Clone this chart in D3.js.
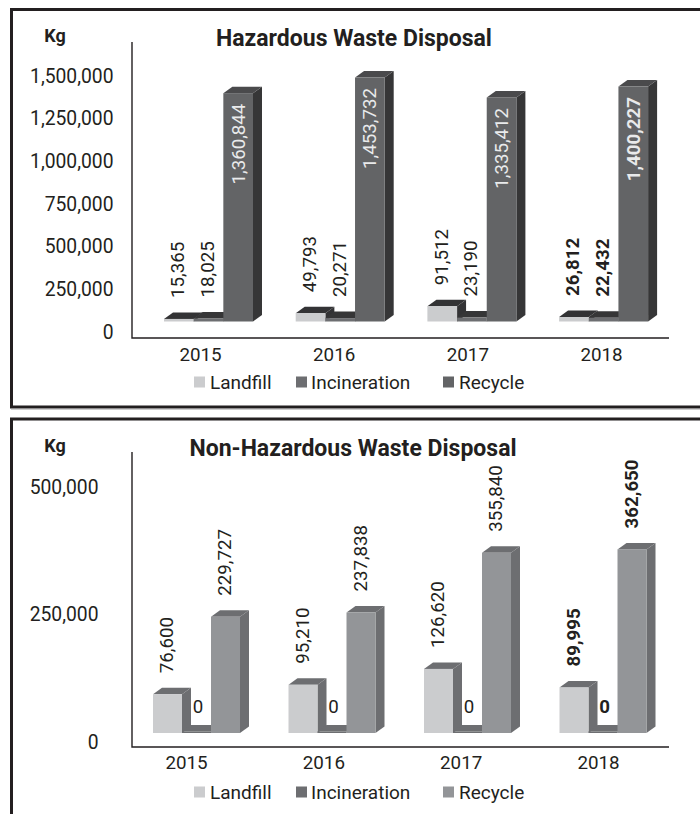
<!DOCTYPE html>
<html><head><meta charset="utf-8">
<script src="https://cdn.jsdelivr.net/npm/d3@7"></script>
<style>
html,body{margin:0;padding:0;background:#fff}
svg{display:block}
text{font-family:Roboto,sans-serif;fill:#231f20}
</style></head><body><svg id="c" width="700" height="814"></svg>
<script>
const years = ["2015","2016","2017","2018"];
const seriesNames = ["Landfill","Incineration","Recycle"];
const hazLandfill = [15365,49793,91512,26812];
const hazIncineration = [18025,20271,23190,22432];
const hazRecycle = [1360844,1453732,1335412,1400227];
const hazTicks = [0,250000,500000,750000,1000000,1250000,1500000];
const nonLandfill = [76600,95210,126620,89995];
const nonIncineration = [0,0,0,0];
const nonRecycle = [229727,237838,355840,362650];
const nonTicks = [0,250000,500000];
const fmt = d3.format(",");
const svg = d3.select("#c");
const INK = "#231f20";
const FS_TICK = 19.3, FS_YEAR = 18.8, FS_VAL = 18.7, FS_LEG = 19;

// page frames
svg.append("line").attr("x1",11).attr("x2",700).attr("y1",409.5).attr("y2",409.5).attr("stroke","#cfcfcf").attr("stroke-width",1);
svg.append("path").attr("fill","none").attr("stroke",INK).attr("stroke-width",3)
  .attr("d","M703,9.5H11.5V407H703");
svg.append("path").attr("fill","none").attr("stroke",INK).attr("stroke-width",3)
  .attr("d","M703,419H11.5V818");

function panel(o){
  const g = svg.append("g");
  // bars sit on a raised floor, so bar and label scales differ (as in the original)
  const y = d3.scaleLinear().domain([0,o.barMax]).range([o.base,o.barTop]);
  const yLabel = d3.scaleLinear().domain([0,d3.max(o.ticks)]).range(o.tickRange);
  const xGroup = d3.scaleBand().domain(years).range(o.groupRange);
  const xSeries = d3.scaleBand().domain(seriesNames).range([0,o.groupWidth]);
  const xYear = d3.scalePoint().domain(years).range(o.yearRange);
  const dx = 9, dy = 6.5;
  const data = o.values.flatMap((vals,s)=>vals.map((v,i)=>({v,year:years[i],name:seriesNames[s],s})));

  // axis lines
  g.append("path").attr("fill","none").attr("stroke",INK).attr("stroke-width",1.4)
    .attr("d",`M${o.axisX},${o.axisTop}V${o.axisY}H${o.axisEnd}`);

  // tick labels
  const ya = g.append("g").attr("transform",`translate(${o.tickX},0)`)
    .call(d3.axisLeft(yLabel).tickValues(o.ticks).tickSize(0).tickPadding(0).tickFormat(fmt));
  ya.select(".domain").remove();
  ya.selectAll("text").attr("font-size",FS_TICK).attr("font-family","Roboto,sans-serif").attr("fill",INK);

  const xa = g.append("g").attr("transform",`translate(0,${o.yearY})`)
    .call(d3.axisBottom(xYear).tickSize(0).tickPadding(0));
  xa.select(".domain").remove();
  xa.selectAll("text").attr("font-size",FS_YEAR).attr("font-family","Roboto,sans-serif").attr("fill",INK);

  // 3-D bars
  const bars = g.selectAll("g.bar").data(data).join("g").attr("class","bar");
  bars.each(function(d){
    const b = d3.select(this);
    const x0 = xGroup(d.year)+xSeries(d.name), w = xSeries.bandwidth();
    const top = Math.min(y(d.v), o.base-1.5), bot = o.base;
    const c = o.colors[d.s];
    b.append("path").attr("fill",c.side)
      .attr("d",`M${x0+w},${top}l${dx},${-dy}V${bot-dy}l${-dx},${dy}Z`);
    b.append("path").attr("fill",c.top)
      .attr("d",`M${x0},${top}l${dx},${-dy}H${x0+w+dx}l${-dx},${dy}Z`);
    b.append("rect").attr("x",x0).attr("y",top).attr("width",w).attr("height",bot-top).attr("fill",c.front);
  });

  // data labels
  g.selectAll("text.val").data(data).join("text").attr("class","val")
    .each(function(d){
      const t = d3.select(this);
      const cx = xGroup(d.year)+xSeries(d.name)+xSeries.bandwidth()/2;
      const bold = d.year==="2018";
      t.attr("font-size",FS_VAL).attr("font-weight",bold?700:400).text(fmt(d.v));
      if(d.v===0){
        t.attr("x",cx+1.5).attr("y",o.base-27).attr("text-anchor","middle").attr("dy","0.35em");
      } else if(o.inside && d.name==="Recycle"){
        const yy = y(d.v)+10.5;
        t.attr("text-anchor","end").attr("dy","0.35em").style("fill","#e9eaeb")
         .attr("transform",`translate(${cx},${yy}) rotate(-90)`);
      } else {
        const yy = y(d.v)-dy-14.5;
        t.attr("text-anchor","start").attr("dy","0.35em")
         .attr("transform",`translate(${cx-1},${yy}) rotate(-90)`);
      }
    });

  // title & unit
  g.append("text").attr("x",o.titleX).attr("y",o.titleY).attr("text-anchor","middle")
    .attr("font-size",o.titleFs).attr("font-weight",700).text(o.title);
  g.append("text").attr("x",55).attr("y",o.kgY).attr("text-anchor","middle")
    .attr("font-size",18).attr("font-weight",700).text("Kg");

  // legend
  const xLegend = d3.scaleOrdinal().domain(seriesNames).range(o.legendX);
  const lg = g.selectAll("g.lg").data(seriesNames).join("g").attr("class","lg")
    .attr("transform",d=>`translate(${xLegend(d)},${o.legendY})`);
  lg.append("rect").attr("x",0).attr("y",-5.5).attr("width",11).attr("height",11)
    .attr("fill",(d,i)=>o.colors[i].front);
  lg.append("text").attr("x",(d,i)=>i===1?15:16).attr("dy","0.35em").attr("font-size",FS_LEG).text(d=>d);
}

const legendSwatchX = [194,296,443];

panel({
  values:[hazLandfill,hazIncineration,hazRecycle], ticks:hazTicks, title:"Hazardous Waste Disposal",
  titleX:354, titleY:45.5, titleFs:23, kgY:42,
  base:321.5, barMax:1500000, barTop:69.8, tickRange:[332,76], tickX:113.5,
  groupRange:[164,690.8], groupWidth:89, yearRange:[200,601], yearY:348,
  axisX:132, axisTop:42, axisY:338, axisEnd:669, inside:true,
  legendX:legendSwatchX, legendY:382,
  colors:[{front:"#cbccce",top:"#333335",side:"#333335"},
          {front:"#6d6e71",top:"#363637",side:"#363637"},
          {front:"#636466",top:"#4a4a4c",side:"#363637"}]
});
panel({
  values:[nonLandfill,nonIncineration,nonRecycle], ticks:nonTicks, title:"Non-Hazardous Waste Disposal",
  titleX:353, titleY:455.5, titleFs:23, kgY:452,
  base:733, barMax:500000, barTop:733-500000/1975, tickRange:[742,487], tickX:98.5,
  groupRange:[153,695], groupWidth:87, yearRange:[186,598], yearY:756,
  axisX:132, axisTop:452, axisY:747, axisEnd:669, inside:false,
  legendX:legendSwatchX, legendY:792,
  colors:[{front:"#cbccce",top:"#6d6e71",side:"#6d6e71"},
          {front:"#6d6e71",top:"#6d6e71",side:"#6d6e71"},
          {front:"#939598",top:"#6d6e71",side:"#6d6e71"}]
});
</script></body></html>
